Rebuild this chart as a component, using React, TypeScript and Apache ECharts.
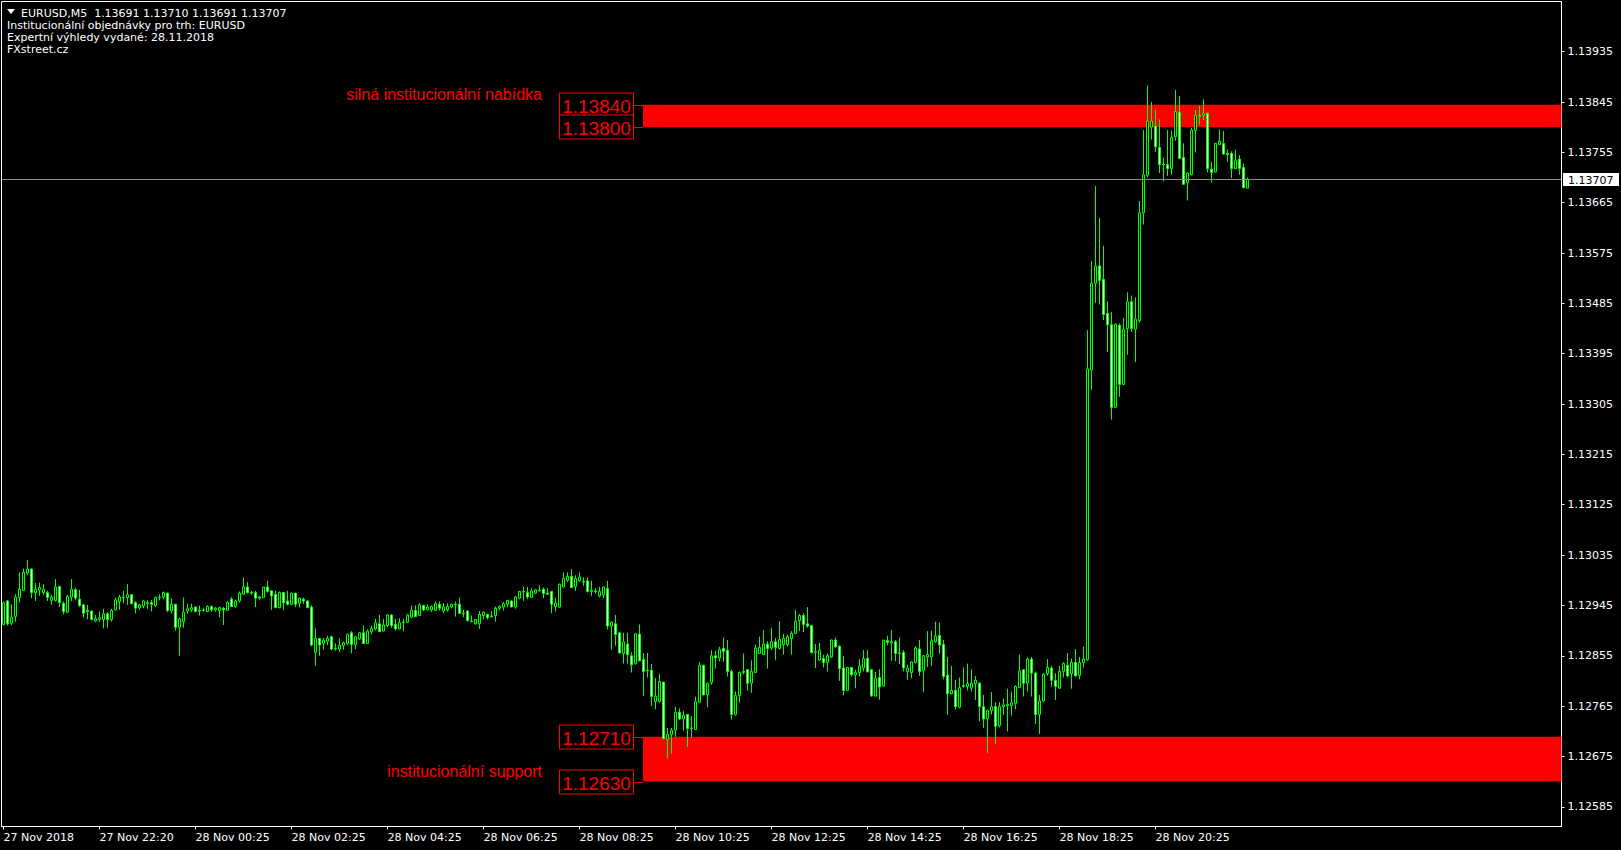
import React, { useEffect, useRef } from "react";
import * as echarts from "echarts";

// ---------------- DATA ----------------
const SYMBOL = "EURUSD,M5";
const BASE = 1.12; // candle values are in points (0.00001) above BASE
const PT = 0.00001;

// [open, high, low, close] in points above 1.12000, one per M5 bar
const candles: number[][] = [
  [911, 952, 909, 950], [953, 955, 909, 912], [913, 947, 910, 924], [925, 965, 916, 960],
  [959, 1004, 950, 974], [972, 1011, 972, 1004], [1003, 1026, 999, 1010], [1010, 1011, 958, 968],
  [968, 985, 953, 974], [973, 986, 962, 977], [968, 983, 964, 974], [968, 971, 953, 959],
  [954, 964, 946, 960], [954, 992, 952, 978], [979, 979, 942, 950], [949, 952, 929, 934],
  [933, 964, 931, 961], [960, 992, 953, 974], [973, 977, 954, 958], [956, 973, 942, 945],
  [946, 948, 923, 931], [936, 946, 920, 934], [935, 935, 918, 920], [917, 928, 915, 921],
  [920, 934, 915, 923], [920, 939, 904, 930], [930, 933, 905, 920], [920, 939, 916, 936],
  [937, 959, 936, 955], [952, 964, 937, 960], [959, 971, 949, 960], [959, 983, 946, 964],
  [964, 965, 947, 948], [950, 953, 931, 940], [941, 948, 937, 946], [944, 954, 940, 953],
  [950, 954, 939, 949], [950, 955, 934, 947], [945, 961, 942, 959], [959, 965, 954, 960],
  [960, 970, 956, 968], [967, 968, 933, 936], [936, 958, 931, 947], [947, 948, 900, 906],
  [906, 923, 855, 921], [916, 959, 905, 933], [935, 948, 930, 939], [937, 948, 933, 941],
  [942, 943, 933, 934], [936, 945, 927, 935], [936, 940, 934, 937], [934, 945, 933, 943],
  [943, 945, 934, 937], [937, 942, 934, 940], [936, 943, 924, 941], [940, 942, 910, 937],
  [936, 953, 935, 950], [956, 960, 942, 943], [943, 955, 941, 953], [953, 970, 950, 967],
  [965, 995, 964, 978], [978, 987, 966, 968], [968, 971, 964, 967], [968, 971, 942, 958],
  [958, 962, 954, 960], [959, 978, 958, 978], [978, 989, 968, 970], [971, 971, 937, 962],
  [965, 971, 940, 941], [941, 970, 940, 968], [968, 968, 936, 950], [953, 971, 945, 947],
  [947, 968, 946, 967], [967, 967, 942, 947], [949, 959, 941, 958], [956, 959, 948, 953],
  [953, 954, 940, 941], [942, 945, 872, 874], [861, 904, 837, 886], [886, 886, 855, 874],
  [877, 887, 866, 883], [881, 891, 874, 886], [889, 891, 865, 867], [868, 877, 864, 867],
  [867, 886, 862, 874], [873, 880, 866, 878], [877, 895, 874, 893], [896, 899, 859, 875],
  [875, 890, 867, 889], [885, 897, 883, 896], [896, 909, 877, 877], [877, 902, 877, 899],
  [898, 909, 893, 904], [903, 921, 900, 914], [912, 928, 898, 898], [899, 921, 899, 910],
  [909, 929, 906, 928], [928, 929, 905, 909], [911, 921, 900, 903], [903, 922, 902, 914],
  [914, 921, 899, 915], [915, 930, 914, 928], [924, 945, 922, 936], [936, 945, 924, 925],
  [927, 949, 927, 946], [945, 946, 935, 937], [937, 947, 936, 942], [937, 945, 933, 943],
  [936, 952, 935, 948], [947, 952, 936, 940], [935, 949, 931, 942], [937, 949, 934, 943],
  [942, 948, 940, 947], [946, 952, 925, 947], [947, 959, 930, 931], [931, 937, 924, 930],
  [935, 936, 916, 918], [917, 927, 915, 916], [912, 921, 911, 920], [912, 935, 903, 929],
  [927, 934, 920, 933], [929, 930, 920, 923], [926, 935, 923, 925], [927, 943, 916, 940],
  [940, 945, 936, 943], [942, 951, 936, 948], [947, 955, 942, 954], [953, 954, 942, 942],
  [942, 961, 939, 960], [958, 971, 956, 970], [969, 979, 953, 970], [968, 978, 956, 960],
  [959, 976, 959, 971], [967, 974, 965, 973], [972, 981, 970, 971], [974, 977, 958, 966],
  [967, 976, 964, 965], [970, 971, 931, 947], [943, 959, 934, 949], [942, 984, 941, 983],
  [978, 1004, 977, 993], [990, 1004, 987, 997], [997, 1010, 976, 977], [979, 999, 971, 993],
  [989, 1004, 987, 996], [988, 995, 980, 987], [989, 995, 968, 970], [970, 989, 962, 972],
  [971, 976, 966, 970], [962, 978, 959, 970], [964, 979, 958, 978], [975, 989, 902, 908],
  [908, 916, 866, 915], [912, 928, 873, 893], [896, 898, 859, 860], [859, 896, 841, 880],
  [876, 896, 841, 857], [855, 861, 825, 839], [841, 895, 839, 894], [894, 911, 845, 846],
  [848, 860, 783, 827], [829, 860, 816, 828], [829, 840, 765, 782], [773, 815, 759, 783],
  [773, 823, 771, 809], [808, 808, 705, 707], [705, 726, 671, 714], [714, 726, 680, 722],
  [722, 764, 710, 754], [754, 761, 740, 742], [742, 756, 721, 748], [750, 750, 692, 725],
  [725, 747, 709, 726], [723, 782, 723, 773], [772, 844, 771, 838], [838, 839, 784, 785],
  [785, 807, 763, 806], [807, 865, 803, 855], [855, 864, 832, 851], [851, 871, 845, 866],
  [868, 888, 844, 863], [865, 883, 818, 827], [827, 830, 741, 750], [750, 791, 748, 784],
  [784, 827, 771, 825], [825, 859, 822, 827], [830, 830, 793, 806], [806, 847, 789, 827],
  [825, 875, 824, 869], [859, 889, 858, 870], [857, 901, 857, 876], [876, 881, 832, 868],
  [869, 905, 865, 880], [880, 887, 847, 870], [868, 917, 866, 884], [875, 894, 857, 886],
  [875, 893, 872, 889], [886, 899, 857, 895], [895, 937, 894, 917], [918, 930, 899, 927],
  [927, 931, 897, 911], [912, 942, 905, 908], [909, 910, 859, 861], [861, 876, 833, 862],
  [847, 878, 846, 865], [850, 857, 834, 843], [843, 859, 827, 855], [853, 884, 851, 883],
  [883, 888, 869, 871], [872, 874, 810, 832], [833, 855, 784, 793], [793, 835, 793, 834],
  [834, 834, 818, 821], [821, 830, 797, 825], [825, 849, 818, 837], [833, 865, 827, 850],
  [850, 865, 826, 826], [830, 831, 782, 783], [783, 826, 782, 815], [816, 831, 776, 799],
  [801, 883, 800, 883], [882, 891, 874, 879], [878, 901, 846, 880], [880, 883, 845, 859],
  [860, 888, 840, 859], [861, 865, 827, 833], [827, 839, 812, 833], [825, 845, 815, 844],
  [843, 872, 841, 869], [867, 883, 819, 827], [828, 856, 790, 855], [853, 899, 835, 857],
  [853, 900, 837, 882], [880, 916, 878, 890], [891, 914, 859, 874], [875, 883, 813, 818],
  [820, 853, 749, 787], [787, 837, 786, 793], [793, 812, 759, 764], [763, 816, 761, 798],
  [800, 834, 798, 802], [800, 841, 793, 805], [797, 831, 791, 806], [805, 819, 776, 811],
  [806, 808, 738, 764], [764, 785, 726, 742], [742, 759, 681, 757], [757, 790, 750, 764],
  [764, 772, 697, 729], [730, 772, 727, 764], [764, 778, 749, 767], [766, 796, 720, 768],
  [766, 791, 748, 771], [770, 802, 759, 800], [798, 857, 797, 828], [830, 830, 782, 806],
  [806, 852, 791, 849], [849, 853, 782, 824], [824, 827, 733, 750], [750, 785, 715, 774],
  [774, 824, 772, 822], [823, 849, 819, 834], [833, 837, 800, 811], [811, 824, 776, 800],
  [797, 837, 796, 827], [827, 843, 816, 841], [838, 860, 816, 819], [823, 850, 796, 843],
  [843, 867, 818, 819], [820, 853, 813, 843], [843, 871, 834, 849], [848, 1437, 846, 1368],
  [1366, 1561, 1331, 1521], [1521, 1695, 1486, 1552], [1552, 1638, 1483, 1526], [1528, 1588, 1455, 1465],
  [1467, 1489, 1398, 1447], [1447, 1470, 1277, 1299], [1299, 1449, 1298, 1448], [1446, 1449, 1318, 1340],
  [1340, 1459, 1339, 1439], [1440, 1505, 1393, 1488], [1488, 1499, 1434, 1440], [1439, 1496, 1380, 1457],
  [1454, 1668, 1451, 1647], [1647, 1795, 1626, 1715], [1714, 1875, 1710, 1811], [1800, 1845, 1778, 1811],
  [1802, 1831, 1756, 1765], [1764, 1814, 1718, 1733], [1734, 1746, 1703, 1733], [1733, 1795, 1713, 1726],
  [1726, 1794, 1715, 1782], [1783, 1867, 1776, 1828], [1827, 1856, 1743, 1744], [1746, 1771, 1697, 1698],
  [1701, 1719, 1669, 1718], [1715, 1799, 1714, 1795], [1794, 1831, 1755, 1821], [1819, 1838, 1805, 1821],
  [1821, 1850, 1813, 1825], [1825, 1826, 1719, 1726], [1725, 1738, 1701, 1719], [1720, 1772, 1719, 1771],
  [1769, 1796, 1768, 1775], [1771, 1793, 1751, 1752], [1753, 1760, 1738, 1751], [1753, 1757, 1709, 1726],
  [1726, 1760, 1725, 1741], [1743, 1750, 1715, 1726], [1728, 1735, 1691, 1692], [1691, 1710, 1691, 1707],
];

const SLOT_COUNT = 390; // bar slots visible on the chart (incl. empty right shift)
const X_TICK_EVERY = 24;
const xTickLabels = [
  "27 Nov 2018", "27 Nov 22:20", "28 Nov 00:25", "28 Nov 02:25", "28 Nov 04:25",
  "28 Nov 06:25", "28 Nov 08:25", "28 Nov 10:25", "28 Nov 12:25", "28 Nov 14:25",
  "28 Nov 16:25", "28 Nov 18:25", "28 Nov 20:25",
];
const yTickValues = [
  1.12585, 1.12675, 1.12765, 1.12855, 1.12945, 1.13035, 1.13125, 1.13215,
  1.13305, 1.13395, 1.13485, 1.13575, 1.13665, 1.13755, 1.13845, 1.13935,
];
const Y_MIN = 1.125497;
const Y_MAX = 1.140248;
const currentPrice = 1.13707;

const zones = [
  { top: 1.1384, bottom: 1.138, startIndex: 160, text: "silná institucionální nabídka", textPrice: 1.13858 },
  { top: 1.1271, bottom: 1.1263, startIndex: 160, text: "institucionální support", textPrice: 1.12648 },
];

const headerLines = [
  "Institucionální objednávky pro trh: EURUSD",
  "Expertní výhledy vydané: 28.11.2018",
  "FXstreet.cz",
];

// ---------------- CHART ----------------
const FONT = "'DejaVu Sans', sans-serif";
const GREEN = "#00ff00";
const RED = "#ff0000";

function buildOption(): any {
  const categories = Array.from({ length: SLOT_COUNT }, (_, i) => String(i));
  const toPrice = (v: number) => BASE + v * PT;
  const candleData = candles.map(([o, h, l, c]) => [toPrice(o), toPrice(c), toPrice(l), toPrice(h)]);
  const last = candles[candles.length - 1];
  const headerFirst = SYMBOL + "  " + last.map((v) => toPrice(v).toFixed(5)).join(" ");

  const showTick = (i: number) => i % X_TICK_EVERY === 0 && i / X_TICK_EVERY < xTickLabels.length;

  const graphic: any[] = [
    {
      type: "polygon",
      shape: { points: [[7, 9], [15, 9], [11, 14]] },
      style: { fill: "#ffffff" },
      silent: true,
    },
    {
      type: "text",
      x: 21,
      y: 13,
      style: { text: headerFirst, fill: "#ffffff", font: "11px " + FONT, verticalAlign: "middle" },
      silent: true,
    },
  ];
  headerLines.forEach((t, i) => {
    graphic.push({
      type: "text",
      x: 7,
      y: 25 + i * 12,
      style: { text: t, fill: "#ffffff", font: "11px " + FONT, verticalAlign: "middle" },
      silent: true,
    });
  });

  return {
    animation: false,
    backgroundColor: "#000000",
    grid: {
      left: 1.5,
      right: 59.5,
      top: 1.5,
      bottom: 23.5,
      show: true,
      borderColor: "#ffffff",
      borderWidth: 1,
      backgroundColor: "transparent",
    },
    xAxis: {
      type: "category",
      data: categories,
      boundaryGap: true,
      axisLine: { show: true, lineStyle: { color: "#ffffff", width: 1 } },
      axisTick: {
        show: true,
        alignWithLabel: true,
        length: 3,
        interval: (i: number) => showTick(i),
        lineStyle: { color: "#ffffff" },
      },
      axisLabel: {
        show: true,
        interval: (i: number) => showTick(i),
        formatter: (_v: string, i: number) => xTickLabels[i / X_TICK_EVERY] ?? "",
        color: "#ffffff",
        fontFamily: FONT,
        fontSize: 11,
        align: "left",
        margin: 5,
      },
      splitLine: { show: false },
    },
    yAxis: {
      type: "value",
      position: "right",
      min: Y_MIN,
      max: Y_MAX,
      axisLine: { show: true, lineStyle: { color: "#ffffff", width: 1 } },
      axisTick: { show: true, length: 3, customValues: yTickValues, lineStyle: { color: "#ffffff" } },
      axisLabel: {
        customValues: yTickValues,
        formatter: (v: number) => v.toFixed(5),
        color: "#ffffff",
        fontFamily: FONT,
        fontSize: 11,
        margin: 6,
      },
      splitLine: { show: false },
    },
    graphic,
    series: [
      {
        type: "custom",
        z: 1,
        silent: true,
        clip: false,
        data: zones.map((z) => [z.startIndex, z.top, z.bottom, z.textPrice]),
        encode: { x: 0, y: [1, 2, 3] },
        renderItem: (params: any, api: any) => {
          const zone = zones[params.dataIndex];
          const idx = api.value(0);
          const cs = params.coordSys;
          const x0 = api.coord([idx, zone.top])[0] - 0.5;
          const yT = api.coord([idx, zone.top])[1];
          const yB = api.coord([idx, zone.bottom])[1];
          const right = cs.x + cs.width;
          const children: any[] = [
            {
              type: "rect",
              shape: { x: x0, y: yT, width: right - x0, height: yB - yT },
              style: { fill: RED },
            },
          ];
          [zone.top, zone.bottom].forEach((p) => {
            const y = api.coord([idx, p])[1];
            const yy = Math.round(y) + 0.5;
            children.push({
              type: "line",
              shape: { x1: x0 - 10, y1: yy, x2: x0, y2: yy },
              style: { stroke: RED, lineWidth: 1 },
            });
            children.push({
              type: "rect",
              shape: { x: x0 - 83.5, y: yy - 12.5, width: 74, height: 24 },
              style: { fill: "#000000", stroke: RED, lineWidth: 1 },
            });
            children.push({
              type: "text",
              x: x0 - 46.5,
              y: yy + 0.5,
              style: {
                text: p.toFixed(5),
                fill: RED,
                font: "19px 'Liberation Sans', Arial, sans-serif",
                align: "center",
                verticalAlign: "middle",
              },
            });
          });
          const ty = api.coord([idx, zone.textPrice])[1];
          children.push({
            type: "text",
            x: x0 - 101,
            y: ty,
            style: {
              text: zone.text,
              fill: RED,
              font: "16px 'Liberation Sans', Arial, sans-serif",
              align: "right",
              verticalAlign: "middle",
            },
          });
          return { type: "group", children };
        },
      },
      {
        type: "candlestick",
        z: 3,
        silent: true,
        data: candleData,
        barWidth: 2,
        itemStyle: {
          color: "#000000",
          color0: "#ffffff",
          borderColor: GREEN,
          borderColor0: GREEN,
          borderColorDoji: GREEN,
          borderWidth: 1,
        },
        emphasis: { disabled: true },
      },
      {
        // current bid line with its price tag on the price scale
        type: "custom",
        z: 4,
        silent: true,
        clip: false,
        data: [[0, currentPrice]],
        encode: { x: 0, y: 1 },
        renderItem: (params: any, api: any) => {
          const cs = params.coordSys;
          const p = api.value(1);
          const yy = Math.round(api.coord([0, p])[1]) + 0.5;
          const right = cs.x + cs.width;
          return {
            type: "group",
            children: [
              {
                type: "line",
                shape: { x1: cs.x, y1: yy, x2: right, y2: yy },
                style: { stroke: "#8c8c8c", lineWidth: 1 },
              },
              {
                type: "rect",
                shape: { x: right + 1.5, y: yy - 6.5, width: 56, height: 13 },
                style: { fill: "#ffffff" },
              },
              {
                type: "text",
                x: right + 6.5,
                y: yy + 0.5,
                style: {
                  text: p.toFixed(5),
                  fill: "#000000",
                  font: "11px " + FONT,
                  verticalAlign: "middle",
                },
              },
            ],
          };
        },
      },
    ],
  };
}

export default function App() {
  const ref = useRef<HTMLDivElement>(null);
  useEffect(() => {
    if (!ref.current) return;
    const chart = echarts.init(ref.current, undefined, { renderer: "svg", width: 1621, height: 850 });
    chart.setOption(buildOption());
    return () => chart.dispose();
  }, []);
  return (
    <div
      ref={ref}
      style={{ position: "fixed", left: 0, top: 0, width: 1621, height: 850, background: "#000000" }}
    />
  );
}
